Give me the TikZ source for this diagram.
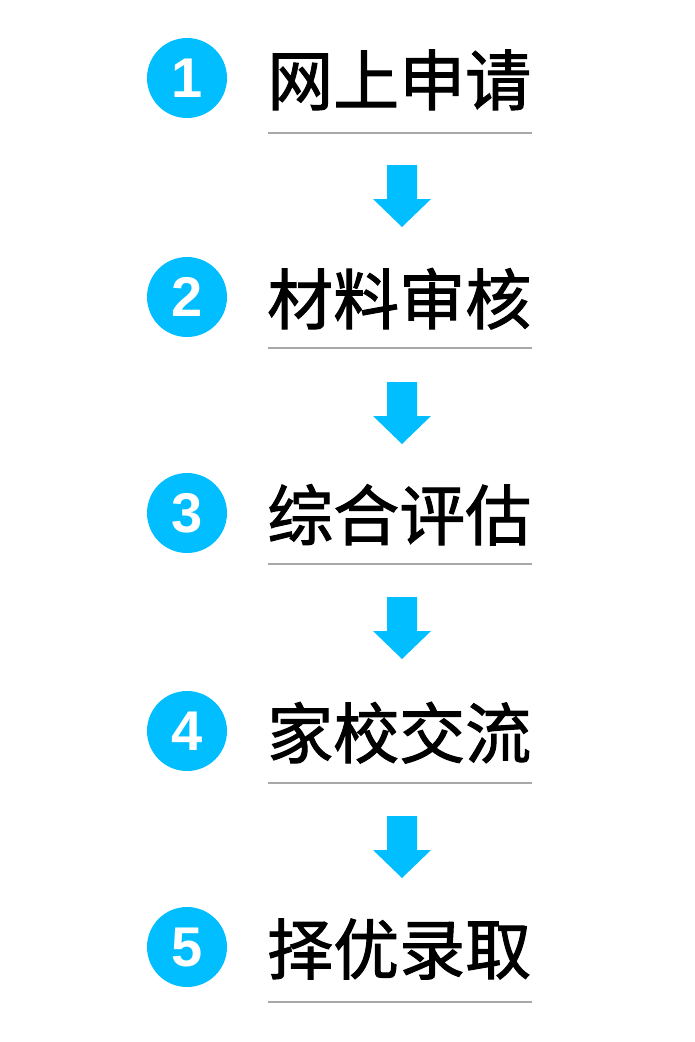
\documentclass[tikz,border=0pt]{standalone}
\usepackage{fontspec}
\setmainfont{Liberation Sans}
\newfontfamily\cjk[FakeBold=1.5]{Noto Sans CJK SC}
\definecolor{stepblue}{RGB}{0,190,255}
\definecolor{rulegray}{RGB}{168,168,168}
\tikzstyle{badge} = [circle,fill=stepblue,minimum size=80pt,inner sep=0pt,text=white,font=\fontsize{56}{56}\selectfont\bfseries]
\tikzstyle{title} = [anchor=base west,inner sep=0pt,font=\fontsize{66}{66}\selectfont\cjk]
\tikzstyle{rule} = [draw=rulegray,line width=2pt]
\tikzstyle{downarrow} = [fill=stepblue]

\begin{document}
\begin{tikzpicture}[x=1pt,y=-1pt]
	\useasboundingbox (0,0) rectangle (695,1042);
	% steps: number / circle centre / underline / text
	\foreach \i/\y/\u/\txt in {1/78/133/网上申请,2/297/348/材料审核,3/513/564/综合评估,4/731/783/家校交流,5/947/1002/择优录取}
	{
		\node[badge] (c\i) at (187,\y) {\i};
		\node[title] (t\i) at (267,\y+27) {\txt};
		\coordinate (ul\i) at (268,\u);
		\coordinate (ur\i) at (532,\u);
		\draw[rule] (ul\i) -- (ur\i);
	}
	% arrows between the steps
	\foreach \i/\y in {1/165,2/382,3/597,4/816}
	{
		\coordinate (a\i) at (402,\y);
		\fill[downarrow] (a\i) ++(-15,0) -- ++(30,0) -- ++(0,34) -- ++(14,0)
			-- ++(-29,28) -- ++(-29,-28) -- ++(14,0) -- cycle;
	}
\end{tikzpicture}
\end{document}
